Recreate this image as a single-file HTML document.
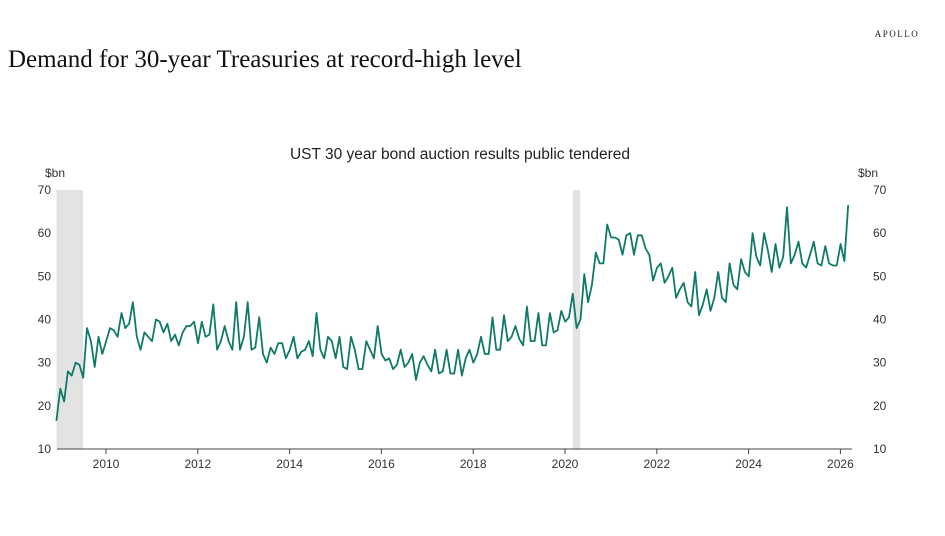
<!DOCTYPE html>
<html><head><meta charset="utf-8"><style>
body{margin:0;background:#fff;width:945px;height:531px;overflow:hidden;font-family:"Liberation Sans",sans-serif}
</style></head><body>
<svg width="945" height="531" xmlns="http://www.w3.org/2000/svg">
<text x="897" y="37" font-family="Liberation Serif,serif" font-size="9" letter-spacing="1.5" text-anchor="middle" fill="#222">APOLLO</text>
<text x="8" y="67" font-family="Liberation Serif,serif" font-size="25" fill="#111">Demand for 30-year Treasuries at record-high level</text>
<text x="460" y="159" font-size="15.5" text-anchor="middle" fill="#222">UST 30 year bond auction results public tendered</text>
<text x="45" y="177" font-size="12" fill="#333">$bn</text>
<text x="858" y="177" font-size="12" fill="#333">$bn</text>
<g id="rec"></g><g id="axes"></g><g id="series"></g>
</svg>
<script>
const yTicks=[10,20,30,40,50,60,70];
const xTicks=[2010,2012,2014,2016,2018,2020,2022,2024,2026];
const recessions=[[2008.92,2009.5],[2020.17,2020.33]];
const startYear=2008.92;
const values=[16.5,24,
21,28,27,30,29.5,26.5,38,35,29,36,32,35,
38,37.5,36,41.5,38,39,44,36,33,37,36,35,
40,39.5,37,39,35,36.5,34,37,38.5,38.5,39.5,34.5,
39.5,36,36.5,43.5,33,35,38.5,35,33,44,33,36,
44,33,33.5,40.5,32,30,33.5,32,34.5,34.5,31,33,
36,31,32.5,33,35,31.5,41.5,33,31,36,35,31,
36,29,28.5,36,33,28.5,28.5,35,33,31,38.5,32,
30.5,31,28.5,29.5,33,29,30,32,26,30,31.5,29.5,
28,33,27.5,28,33,27.5,27.5,33,27,31,33,30,
32,36,32,32,40.5,33,33,41,35,36,38.5,35.5,
34,43,35,35,41.5,34,34,41.5,37,37.5,42,39.5,
40.5,46,38,40,50.5,44,48,55.5,53,53,62,59,
59,58.5,55,59.5,60,55,59.5,59.5,56.5,55,49,52,
53,48.5,50,52,45,47,48.5,44,43,51,41,43.5,
47,42,45,51,45,44,53,48,47,54,51,50,
60,54.5,52.5,60,56,51,57.5,52,54.5,66,53,55,
58,53,52,55,58,53,52.5,57,53,52.5,52.5,57.5,
53.5,66.5];
const X=t=>106+(t-2010)*45.9;
const Y=v=>449-(v-10)*4.3167;
const ns="http://www.w3.org/2000/svg";
function mk(tag,attrs,parent,txt){const e=document.createElementNS(ns,tag);for(const k in attrs)e.setAttribute(k,attrs[k]);if(txt!==undefined)e.textContent=txt;parent.appendChild(e);return e;}
const rec=document.getElementById('rec'),ax=document.getElementById('axes'),se=document.getElementById('series');
recessions.forEach(r=>{const e=mk('rect',{x:X(r[0]),y:Y(70),width:X(r[1])-X(r[0]),height:Y(10)-Y(70),fill:'#e3e3e3'},rec);

});
const al=mk('line',{x1:57,x2:852,y1:Y(10),y2:Y(10),stroke:'#444','stroke-width':1},ax);


yTicks.forEach(v=>{const a=mk('text',{x:51,y:Y(v)+4,'font-size':12,'text-anchor':'end',fill:'#333'},ax,v);


const b=mk('text',{x:873,y:Y(v)+4,'font-size':12,fill:'#333'},ax,v);

});
xTicks.forEach(t=>{const l=mk('line',{x1:X(t),x2:X(t),y1:Y(10),y2:Y(10)+5,stroke:'#444'},ax);


const a=mk('text',{x:X(t),y:468,'font-size':12,'text-anchor':'middle',fill:'#333'},ax,t);

});
const pts=values.map((v,i)=>X(startYear+i/12).toFixed(1)+','+Y(v).toFixed(1)).join(' ');
const p=mk('polyline',{points:pts,fill:'none',stroke:'#107a68','stroke-width':1.8,'stroke-linejoin':'round'},se);


</script>
</body></html>
